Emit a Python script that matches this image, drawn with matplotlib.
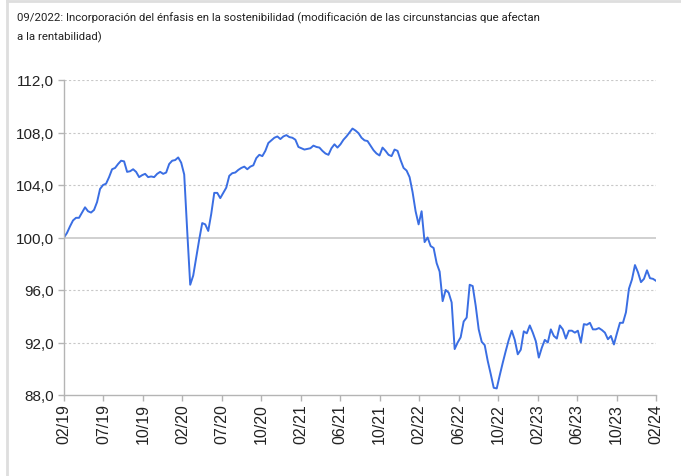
import matplotlib
matplotlib.use("Agg")
import matplotlib.pyplot as plt
from matplotlib.lines import Line2D
import numpy as np

title_line1 = "09/2022: Incorporación del énfasis en la sostenibilidad (modificación de las circunstancias que afectan"
title_line2 = "a la rentabilidad)"

tick_labels = ["02/19", "07/19", "10/19", "02/20", "07/20", "10/20", "02/21", "06/21",
               "10/21", "02/22", "06/22", "10/22", "02/23", "06/23", "10/23", "02/24"]

y_ticks = [88, 92, 96, 100, 104, 108, 112]

values = [
    100.0, 100.35, 100.85, 101.3, 101.5, 101.5, 101.9, 102.3, 102.0, 101.9,
    102.1, 102.7, 103.7, 104.0, 104.1, 104.6, 105.2, 105.3, 105.6, 105.85,
    105.8, 105.0, 105.05, 105.2, 105.0, 104.6, 104.75, 104.85, 104.6, 104.65,
    104.6, 104.85, 105.0, 104.85, 104.95, 105.6, 105.85, 105.9, 106.1, 105.7,
    104.8, 100.5, 96.4, 97.1, 98.5, 99.85, 101.1, 101.0, 100.5, 101.8,
    103.4, 103.4, 103.0, 103.4, 103.8, 104.7, 104.9, 104.95, 105.15, 105.3,
    105.4, 105.2, 105.4, 105.5, 106.05, 106.3, 106.2, 106.6, 107.2, 107.4,
    107.6, 107.7, 107.5, 107.7, 107.8, 107.65, 107.6, 107.45, 106.9, 106.8,
    106.7, 106.75, 106.8, 107.0, 106.9, 106.85, 106.6, 106.4, 106.3, 106.8,
    107.1, 106.85, 107.1, 107.45, 107.7, 108.0, 108.3, 108.15, 107.95, 107.6,
    107.4, 107.35, 107.0, 106.65, 106.4, 106.25, 106.85, 106.6, 106.3, 106.2,
    106.7, 106.6, 105.9, 105.3, 105.1, 104.6, 103.45, 102.0, 101.0, 102.0,
    99.65, 100.0, 99.35, 99.2, 98.05, 97.4, 95.15, 96.0, 95.8, 95.05,
    91.5, 92.0, 92.4, 93.6, 93.9, 96.4, 96.3, 94.8, 93.0, 92.05,
    91.8, 90.6, 89.6, 88.55, 88.5, 89.5, 90.45, 91.35, 92.2, 92.9,
    92.2, 91.1, 91.45, 92.85, 92.7, 93.3, 92.75, 92.1, 90.85, 91.6,
    92.2, 92.0, 93.0, 92.5, 92.3, 93.3, 93.0, 92.3, 92.9, 92.9,
    92.75, 92.9, 92.0, 93.4, 93.35, 93.5, 93.0, 93.0, 93.1, 92.95,
    92.75, 92.25, 92.5, 91.85, 92.7, 93.5, 93.5, 94.3, 96.1, 96.8,
    97.9, 97.35, 96.6, 96.85, 97.5, 96.9, 96.85, 96.7,
]

plt.rcParams['font.family'] = ['Liberation Sans', 'DejaVu Sans']

fig = plt.figure(figsize=(6.81, 4.77), dpi=100)
fig.patch.set_facecolor("white")

ax = fig.add_axes([64 / 681, 1 - 396 / 477, (656 - 64) / 681, (396 - 81) / 477])

x = np.arange(len(values))
ax.plot(x, values, color="#3a6ee3", lw=1.4, solid_joinstyle="round")

ax.set_xlim(0, len(values) - 1)
ax.set_ylim(88, 112)

tick_pos = np.linspace(0, len(values) - 1, len(tick_labels))
ax.set_xticks(tick_pos)
ax.set_xticklabels(tick_labels, rotation=90, fontsize=11.5, color="#222222")
ax.set_yticks(y_ticks)
ax.set_yticklabels([f"{v:.1f}".replace(".", ",") for v in y_ticks], fontsize=11, color="#222222")

for v in y_ticks:
    if v == 100:
        ax.axhline(v, color="#d0d0d0", lw=1.4, zorder=0)
    elif v != 88:
        ax.axhline(v, color="#c8c8c8", lw=0.8, ls=(0, (2, 2)), zorder=0)

for s in ["top", "right"]:
    ax.spines[s].set_visible(False)
for s in ["left", "bottom"]:
    ax.spines[s].set_color("#b4b4b4")
    ax.spines[s].set_linewidth(1.0)
ax.tick_params(axis="both", colors="#b4b4b4", length=4, width=1.0, labelcolor="#222222")
ax.tick_params(axis="x", pad=2)
ax.tick_params(axis="y", pad=3)

# Title: fit first line close to the reference width
title_family = ['Roboto', 'DejaVu Sans']
t1 = fig.text(17 / 681, 1 - 21 / 477, title_line1, ha="left", va="baseline", fontsize=10,
              color="#222222", family=title_family)
renderer = fig.canvas.get_renderer()
w = t1.get_window_extent(renderer).width
fs = 10 * 522 / w
t1.set_fontsize(fs)
fig.text(17 / 681, 1 - 40 / 477, title_line2, ha="left", va="baseline", fontsize=fs,
         color="#222222", family=title_family)

fig.add_artist(Line2D([7 / 681, 7 / 681], [0, 1], transform=fig.transFigure,
                      color="#dedede", lw=2))
fig.add_artist(Line2D([7 / 681, 1], [1 - 1.5 / 477, 1 - 1.5 / 477], transform=fig.transFigure,
                      color="#dedede", lw=2))

fig.savefig("out.png", dpi=100, facecolor="white")
